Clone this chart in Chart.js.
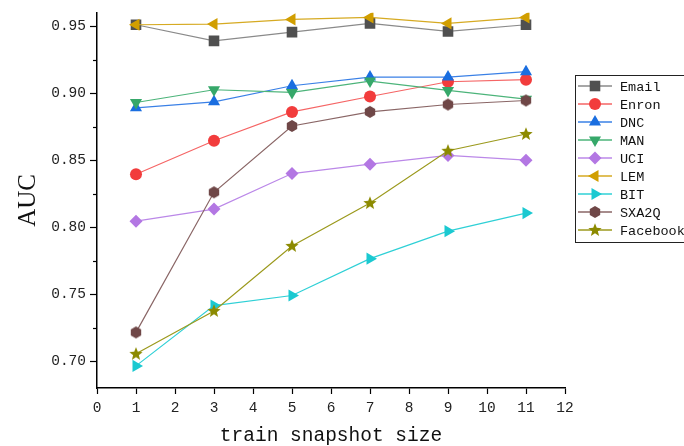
<!DOCTYPE html>
<html>
<head>
<meta charset="utf-8">
<script src="https://cdn.jsdelivr.net/npm/chart.js@4"></script>
<style>
body {margin: 0; background: #fff;}
</style>
</head>
<body>
<canvas id="auc_chart" width="684" height="446"></canvas>
<script>
// snapshot sizes on the x axis
var snapshotSizes = [1, 3, 5, 7, 9, 11]

var seriesNames = ['Email', 'Enron', 'DNC', 'MAN', 'UCI', 'LEM', 'BIT', 'SXA2Q', 'Facebook']

var emailAuc    = [0.951, 0.939, 0.9455, 0.952, 0.946, 0.951]
var enronAuc    = [0.8395, 0.8645, 0.886, 0.8975, 0.9085, 0.910]
var dncAuc      = [0.889, 0.8935, 0.9055, 0.912, 0.912, 0.916]
var manAuc      = [0.893, 0.9025, 0.9005, 0.909, 0.902, 0.8955]
var uciAuc      = [0.8045, 0.8135, 0.840, 0.847, 0.8535, 0.850]
var lemAuc      = [0.951, 0.9515, 0.955, 0.9565, 0.952, 0.9565]
var bitAuc      = [0.6965, 0.7415, 0.749, 0.7765, 0.797, 0.8105]
var sxa2qAuc    = [0.7215, 0.826, 0.8755, 0.886, 0.8915, 0.8945]
var facebookAuc = [0.7055, 0.7375, 0.786, 0.818, 0.857, 0.8695]

var yMajorTicks = [0.70, 0.75, 0.80, 0.85, 0.90, 0.95]
var yMinorTicks = [0.725, 0.775, 0.825, 0.875, 0.925]
var xTickValues = [0, 1, 2, 3, 4, 5, 6, 7, 8, 9, 10, 11, 12]

var allValues = [emailAuc, enronAuc, dncAuc, manAuc, uciAuc, lemAuc, bitAuc, sxa2qAuc, facebookAuc]

// marker colour, line colour
var markerColors = ['#505050', '#f23c3c', '#1a6ee0', '#36a86a', '#b377e3', '#d19e00', '#1bc9d1', '#6f4747', '#8c8a00']
var lineColors   = ['#8a8a8a', '#f56565', '#3a80e6', '#4cb47a', '#bb88e8', '#d6aa22', '#2fd0d6', '#8a6666', '#9c9a1e']

function makeShape(kind, color) {
    var c = document.createElement('canvas')
    var s = 14
    c.width = s; c.height = s
    var g = c.getContext('2d')
    g.fillStyle = color
    g.beginPath()
    if (kind == 'star') {
        for (var k = 0; k < 10; k++) {
            var r = (k % 2 == 0) ? 7 : 3
            var a = -Math.PI / 2 + k * Math.PI / 5
            g.lineTo(7 + r * Math.cos(a), 7.3 + r * Math.sin(a))
        }
    } else {
        for (var k = 0; k < 6; k++) {
            var a = -Math.PI / 2 + k * Math.PI / 3
            g.lineTo(7 + 6 * Math.cos(a), 7 + 6 * Math.sin(a))
        }
    }
    g.closePath()
    g.fill()
    return c
}

var starImg = makeShape('star', markerColors[8])
var hexImg = makeShape('hex', markerColors[7])

var styles = [
    {pointStyle: 'rect', radius: 7.5, rotation: 0},
    {pointStyle: 'circle', radius: 6, rotation: 0},
    {pointStyle: 'triangle', radius: 7, rotation: 0},
    {pointStyle: 'triangle', radius: 7, rotation: 180},
    {pointStyle: 'rectRot', radius: 6.5, rotation: 0},
    {pointStyle: 'triangle', radius: 7, rotation: 270},
    {pointStyle: 'triangle', radius: 7, rotation: 90},
    {pointStyle: hexImg, radius: 6, rotation: 0},
    {pointStyle: starImg, radius: 6, rotation: 0},
]

var ds = []
for (var i = 0; i < seriesNames.length; i++) {
    var pts = []
    for (var j = 0; j < snapshotSizes.length; j++) {
        pts.push({x: snapshotSizes[j], y: allValues[i][j]})
    }
    ds.push({
        label: seriesNames[i],
        data: pts,
        borderColor: lineColors[i],
        backgroundColor: markerColors[i],
        pointBackgroundColor: markerColors[i],
        pointBorderColor: markerColors[i],
        pointBorderWidth: 0,
        borderWidth: 1.2,
        pointStyle: styles[i].pointStyle,
        pointRadius: styles[i].radius,
        pointRotation: styles[i].rotation,
        tension: 0,
        order: seriesNames.length - i,
    })
}

// short minor ticks on the y axis
var minorTicks = {
    id: 'minorTicks',
    afterDraw: function (chart) {
        var ctx = chart.ctx
        var sc = chart.scales.y
        ctx.save()
        ctx.strokeStyle = '#000'
        ctx.lineWidth = 1.2
        yMinorTicks.forEach(function (v) {
            var py = Math.round(sc.getPixelForValue(v)) + 0.5
            ctx.beginPath()
            ctx.moveTo(chart.chartArea.left - 4, py)
            ctx.lineTo(chart.chartArea.left, py)
            ctx.stroke()
        })
        ctx.restore()
    }
}

var legendBox = {
    id: 'legendBox',
    afterDraw: function (chart) {
        var ctx = chart.ctx
        ctx.save()
        ctx.strokeStyle = '#222'
        ctx.lineWidth = 1
        ctx.strokeRect(575.5, 75.5, 130, 167)
        ctx.font = '13.5px "Liberation Mono", monospace'
        ctx.textBaseline = 'middle'
        for (var i = 0; i < seriesNames.length; i++) {
            var y = 86 + i * 18
            ctx.strokeStyle = lineColors[i]
            ctx.lineWidth = 1.5
            ctx.beginPath()
            ctx.moveTo(578, y)
            ctx.lineTo(612, y)
            ctx.stroke()
            ctx.fillStyle = markerColors[i]
            ctx.strokeStyle = markerColors[i]
            Chart.helpers.drawPoint(ctx, {pointStyle: styles[i].pointStyle, radius: styles[i].radius, rotation: styles[i].rotation, borderWidth: 0}, 595, y)
            ctx.fillStyle = '#111'
            ctx.fillText(seriesNames[i], 620, y + 1)
        }
        ctx.restore()
    }
}

var tickFont = {family: '"Liberation Mono", monospace', size: 14.5}

var ctx = document.getElementById('auc_chart')
var myChart = new Chart(ctx, {
    type: 'line',
    data: {datasets: ds},
    options: {
        responsive: false,
        animation: false,
        layout: {padding: {top: 12, right: 119, left: 0, bottom: 0}},
        plugins: {legend: {display: false}, tooltip: {enabled: false}},
        scales: {
            x: {
                type: 'linear',
                min: 0,
                max: 12,
                afterBuildTicks: function (scale) {
                    scale.ticks = xTickValues.map(function (v) { return {value: v} })
                },
                afterFit: function (scale) { scale.height = 58 },
                grid: {drawOnChartArea: false, drawTicks: true, tickLength: 6, color: '#000', tickWidth: 1.2},
                border: {color: '#000', width: 1.5},
                ticks: {color: '#222', font: tickFont, padding: 5, maxRotation: 0, autoSkip: false},
                title: {display: true, text: 'train snapshot size', color: '#111',
                        font: {family: '"Liberation Mono", monospace', size: 19.5}, padding: {top: 0, bottom: -2}},
            },
            y: {
                min: 0.68,
                max: 0.96,
                afterBuildTicks: function (scale) {
                    scale.ticks = yMajorTicks.map(function (v) { return {value: v} })
                },
                afterFit: function (scale) { scale.width = 97 },
                grid: {drawOnChartArea: false, drawTicks: true, tickLength: 7, color: '#000', tickWidth: 1.2},
                border: {color: '#000', width: 1.5},
                ticks: {
                    color: '#222', font: tickFont, padding: 4, autoSkip: false,
                    callback: function (v) { return v.toFixed(2) }
                },
                title: {display: true, text: 'AUC', color: '#111',
                        font: {family: '"Liberation Serif", serif', size: 25}, padding: {top: 13, bottom: 0}},
            }
        }
    },
    plugins: [minorTicks, legendBox]
})
</script>
</body>
</html>
